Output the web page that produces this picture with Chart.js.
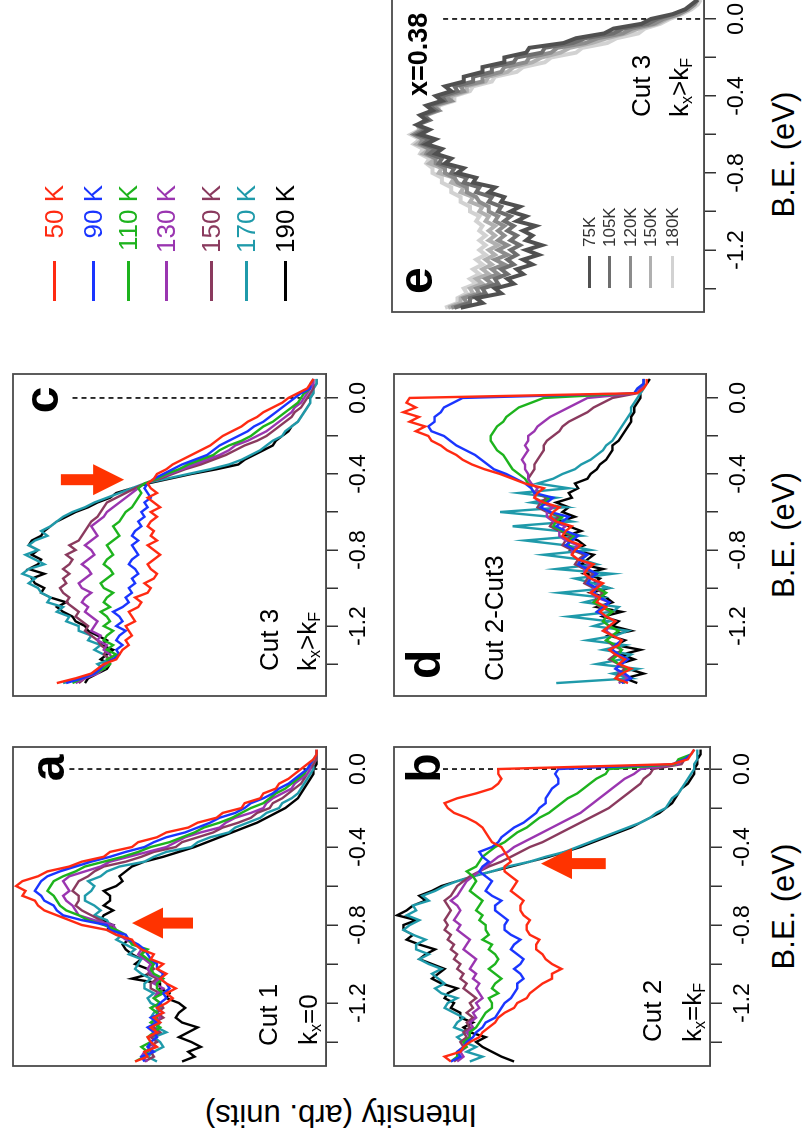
<!DOCTYPE html>
<html><head><meta charset="utf-8">
<script src="https://cdn.jsdelivr.net/npm/chart.js@4.4.1/dist/chart.umd.min.js"></script>
<style>
html,body{margin:0;padding:0;background:#fff;width:809px;height:1142px;overflow:hidden;}
#fig{position:absolute;left:0;top:0;width:1142px;height:809px;transform-origin:0 0;transform:translate(0px,1142px) rotate(-90deg);font-family:'Liberation Sans',Arial,sans-serif;}
#fig canvas{position:absolute;}
.t{position:absolute;white-space:nowrap;line-height:1;color:#000;}
.sb{font-size:0.62em;position:relative;top:0.28em;}
.lg{position:absolute;height:3px;}
</style></head><body><div id="fig"></div>
<script>
// ---------------- data ----------------
const be = [-1.500,-1.475,-1.450,-1.425,-1.400,-1.375,-1.350,-1.325,-1.300,-1.275,-1.250,-1.225,-1.200,-1.175,-1.150,-1.125,-1.100,-1.075,-1.050,-1.025,-1.000,-0.975,-0.950,-0.925,-0.900,-0.875,-0.850,-0.825,-0.800,-0.775,-0.750,-0.725,-0.700,-0.675,-0.650,-0.625,-0.600,-0.575,-0.550,-0.525,-0.500,-0.475,-0.450,-0.425,-0.400,-0.375,-0.350,-0.325,-0.300,-0.275,-0.250,-0.225,-0.200,-0.175,-0.150,-0.125,-0.100,-0.075,-0.050,-0.025,0.000,0.025,0.050,0.075,0.100];
const tickVals = [-1.4,-1.2,-1.0,-0.8,-0.6,-0.4,-0.2,0.0];
const tickLabels = ['','-1.2','','-0.8','','-0.4','','0.0'];
const tempLabels = ['50 K','90 K','110 K','130 K','150 K','170 K','190 K'];
const eLabels = ['75K','105K','120K','150K','180K'];

// panel a (Cut 1, kx=0)
const aRed   = [61,57,58,54,56,57,54,56,53,55,52,54,51,49,51,48,51,53,51,54,52,56,55,59,61,62,67,70,78,82,86,90,92,93,97,96,99,97,92,89,82,78,71,69,62,60,54,51,44,41,35,33,27,26,21,20,16,15,12,10,8,6,4,3,3];
const aBlue  = [58,59,55,57,56,54,55,57,54,56,52,54,53,51,52,50,51,53,52,54,54,56,57,58,60,63,64,69,70,78,84,86,87,90,91,93,92,91,89,85,80,75,69,64,58,55,51,45,41,37,34,29,26,24,20,17,15,12,10,8,6,5,4,3,3];
const aGreen = [61,58,57,59,56,57,55,53,56,54,54,56,53,55,52,54,54,52,55,56,55,57,59,57,62,63,64,67,71,76,79,83,85,86,87,89,88,87,84,80,77,71,65,60,56,50,46,42,39,34,30,27,24,20,18,16,13,11,9,7,6,5,4,3,3];
const aPurple= [57,59,58,55,56,57,54,56,55,53,54,56,53,55,54,52,55,53,56,57,56,58,60,59,61,64,66,67,68,74,79,80,81,83,84,82,83,84,82,77,72,69,63,57,51,48,45,40,34,32,29,24,20,19,17,14,11,10,8,6,5,5,4,3,3];
const aBrown = [58,55,56,57,54,56,53,55,55,52,54,52,53,55,53,56,56,54,57,55,56,58,59,58,61,63,64,67,70,72,75,78,80,79,79,81,80,79,76,74,71,64,59,55,48,46,41,36,33,28,24,22,18,17,14,12,10,8,7,6,5,4,3,3,3];
const aTeal  = [54,57,55,52,53,55,51,54,53,56,55,53,56,57,55,58,58,56,59,61,60,59,63,61,64,67,65,68,69,70,74,72,74,77,77,75,74,76,72,70,66,58,55,51,43,41,37,31,29,25,21,19,15,14,11,9,8,7,6,5,4,4,3,3,3];
const aBlack = [46,42,44,40,43,47,44,41,46,48,47,45,47,51,50,53,53,62,56,57,61,59,62,64,65,63,67,70,68,72,71,68,71,69,69,71,67,65,66,64,62,58,52,47,42,38,34,30,26,22,19,16,13,11,9,8,7,6,5,4,4,3,3,3,3];
// panel b (Cut 2, kx=kF)
const bRed   = [82,84,79,78,76,73,72,70,68,67,65,62,61,58,57,55,53,50,50,47,50,52,53,55,55,54,57,58,58,57,59,60,60,59,61,63,62,61,63,65,65,63,64,65,66,69,70,71,72,74,77,81,83,84,80,74,69,67,66,67,67,12,7,6,5];
const bBlue  = [82,79,80,78,77,75,74,72,71,68,67,66,65,63,62,61,61,59,60,62,60,59,61,63,62,60,63,65,65,64,66,68,68,66,69,71,70,69,71,73,72,70,72,73,69,67,66,64,62,59,57,55,54,52,52,51,50,48,48,49,48,12,8,6,5];
const bGreen = [82,80,80,77,78,76,76,74,73,72,71,69,69,70,67,69,68,66,68,70,68,67,68,70,69,72,70,71,71,73,72,74,73,72,74,76,75,74,75,77,74,73,72,70,68,65,63,61,58,56,54,51,49,47,45,42,40,38,36,33,32,11,10,6,5];
const bPurple= [80,78,79,77,78,76,77,75,76,74,75,73,74,72,73,74,73,75,74,76,75,74,76,78,77,76,78,80,79,81,80,79,80,82,80,79,78,77,75,73,71,69,67,64,62,59,56,53,50,47,44,41,39,37,35,33,31,29,27,24,22,10,9,6,5];
const bBrown = [81,79,80,78,79,77,78,76,77,75,77,75,76,74,76,78,77,79,78,80,79,81,80,82,81,83,82,84,83,84,83,82,83,84,82,81,80,78,76,73,70,66,63,60,57,53,50,47,44,41,38,35,32,30,28,26,24,22,21,19,18,9,8,6,5];
const bTeal  = [76,72,77,74,78,80,77,81,80,78,81,84,83,80,85,87,84,86,88,85,89,92,89,93,93,90,94,97,95,92,96,93,94,89,91,87,84,80,75,69,64,57,52,46,42,38,34,30,26,22,19,17,14,13,12,10,9,8,7,6,5,5,4,4,4];
const bBlack = [62,66,69,72,74,71,76,78,75,79,79,82,81,84,83,80,85,88,86,84,88,92,90,87,92,96,94,97,97,93,99,96,94,90,92,88,85,80,75,69,63,57,51,46,41,37,33,29,25,22,19,16,14,12,11,10,9,7,6,5,5,4,4,3,3];
// panel c (Cut 3, kx>kF)
const cRed   = [86,80,75,73,71,67,66,65,63,64,62,63,64,61,62,63,60,59,61,57,56,58,55,54,56,57,55,53,55,57,54,56,55,57,56,54,56,53,55,57,54,56,57,55,54,51,49,46,43,40,37,35,33,30,27,25,22,20,17,14,12,9,6,5,4];
const cBlue  = [83,78,74,72,71,68,66,67,65,67,66,64,67,65,66,68,65,63,64,62,63,61,62,60,61,63,62,60,61,62,60,62,61,59,60,58,59,57,58,56,57,58,57,55,52,49,46,42,38,36,34,31,28,25,23,20,18,16,14,12,10,8,5,5,4];
const cGreen = [81,78,74,71,69,70,67,70,68,71,70,68,71,69,70,72,69,71,70,68,71,72,70,68,69,71,70,68,69,70,68,66,67,68,66,65,64,62,61,60,59,60,58,54,51,47,44,40,36,34,31,27,24,22,20,17,15,13,11,9,8,7,5,5,4];
const cPurple= [80,77,73,71,70,68,69,71,70,73,72,75,74,73,75,77,76,78,77,75,78,79,77,75,76,78,76,74,75,77,75,73,74,75,73,71,70,68,66,64,62,60,58,54,50,46,42,38,34,31,29,25,22,19,17,15,13,11,10,8,7,6,5,4,4];
const cBrown = [79,77,74,72,70,69,71,70,72,73,75,77,76,78,80,79,81,83,82,84,85,83,84,82,84,82,81,83,80,82,79,78,77,76,75,73,72,71,70,67,64,61,58,53,49,45,40,36,32,29,26,22,19,17,15,13,11,10,8,7,6,5,4,4,4];
const cTeal  = [84,78,75,71,73,69,71,74,72,76,75,79,79,83,82,86,84,89,88,91,92,95,93,97,95,90,93,96,92,95,93,89,91,88,86,84,81,77,74,70,66,62,58,51,44,37,31,27,24,21,19,17,14,13,11,9,8,7,6,5,5,4,4,3,3];
const cBlack = [77,76,73,70,69,72,70,68,72,70,73,76,77,80,81,84,86,83,88,91,90,93,94,90,95,92,91,94,92,95,94,91,90,88,86,83,80,76,73,69,67,62,57,50,43,35,28,26,23,20,17,16,14,12,11,9,8,7,6,5,5,4,4,3,3];
// panel d (Cut 2 - Cut 3)
const dRed   = [25,29,27,24,28,26,29,31,28,27,30,33,31,29,32,34,32,35,34,37,35,33,37,39,38,36,41,43,42,40,44,46,45,43,48,50,49,47,52,55,54,52,58,62,66,71,75,78,80,83,85,88,89,93,90,95,92,97,93,96,95,22,20,19,19];
const dBlue  = [27,24,26,29,27,25,28,30,29,27,30,33,31,29,32,35,33,31,34,36,35,38,37,35,38,41,40,38,42,45,43,41,45,48,46,44,50,53,51,49,55,56,58,61,64,68,70,72,74,77,80,82,84,88,89,87,87,85,84,81,78,23,22,20,20];
const dGreen = [26,29,27,25,28,30,28,27,29,32,30,28,31,33,32,30,33,36,34,32,35,38,37,35,38,41,40,38,42,44,44,42,46,49,48,46,50,53,52,50,55,56,57,58,60,62,63,64,65,67,68,69,69,68,67,65,64,62,60,56,52,23,22,20,20];
const dPurple= [28,25,27,29,28,26,29,31,29,27,30,32,31,29,32,34,33,31,35,37,36,34,37,39,39,37,41,43,43,41,45,47,47,45,49,51,51,49,53,55,55,54,56,57,57,58,58,59,58,57,58,57,57,55,54,52,50,47,44,41,38,22,21,20,20];
const dBrown = [26,29,28,26,28,31,29,27,30,32,30,28,31,33,32,30,34,36,35,33,36,39,38,36,39,42,41,39,43,46,45,43,47,50,49,47,51,54,53,51,55,56,56,57,56,55,55,54,53,52,52,51,49,47,46,44,41,38,36,33,30,22,21,20,20];
const dTeal  = [48,24,30,22,35,27,24,33,26,38,29,25,36,31,44,30,28,39,33,47,31,36,42,30,48,35,40,52,37,45,58,40,47,62,43,50,66,45,56,48,60,44,54,49,46,42,40,37,35,33,32,30,29,28,27,26,25,24,24,23,22,21,20,20,20];
const dBlack = [22,26,20,25,28,23,27,21,29,26,31,24,30,28,33,27,35,30,32,37,31,36,34,39,33,40,38,36,43,39,41,45,40,44,47,42,46,44,48,43,44,41,42,38,37,35,34,32,31,30,30,28,27,26,25,24,24,23,23,22,21,21,20,19,18];
// panel e (x=0.38, Cut 3)
const e75  = [78,71,73,65,67,61,63,58,60,55,58,53,57,52,57,55,58,54,60,57,62,59,65,64,69,67,74,73,79,77,83,81,86,84,89,86,91,88,92,89,91,87,89,84,86,81,83,77,77,71,71,64,64,57,56,45,41,32,29,20,17,10,6,4,2];
const e105 = [80,75,75,70,71,66,67,63,65,61,63,60,62,59,62,60,63,61,64,62,66,65,69,68,73,72,77,76,81,80,85,84,88,86,90,88,92,89,92,88,90,86,88,83,84,79,80,74,74,68,68,61,60,52,51,42,38,29,26,18,15,10,6,4,2];
const e120 = [81,76,77,72,73,68,70,66,68,64,67,63,66,63,66,64,66,64,67,66,69,69,72,73,76,76,79,80,83,83,86,86,89,88,91,90,93,90,92,88,90,85,87,81,83,77,78,71,71,65,64,57,56,49,47,38,34,26,23,16,13,8,5,3,2];
const e150 = [82,78,78,74,75,71,73,69,71,68,70,67,69,66,69,67,69,67,70,69,72,71,75,74,78,77,81,80,85,84,88,86,90,88,92,90,93,91,92,89,89,85,86,81,81,76,76,70,69,63,61,55,52,46,43,36,31,25,21,15,12,8,5,3,2];
const e180 = [83,79,79,76,77,73,75,72,74,71,73,70,72,70,72,70,72,71,73,72,75,75,78,78,81,81,84,84,87,87,89,88,91,90,93,91,94,91,92,89,89,85,85,80,80,75,74,68,67,60,58,51,49,41,39,31,28,21,19,14,11,7,4,2,1];

// ---------------- styles ----------------
const tempColors = ['#ff2a12','#1a35ff','#1db31d','#9a35b0','#8a3a5e','#1f9aaa','#000000'];
const greyColors = ['#505050','#6e6e6e','#8c8c8c','#b0b0b0','#d2d2d2'];
const FONT = "'Liberation Sans', Arial, sans-serif";
const fig = document.getElementById('fig');

const deco = {
  id: 'deco',
  beforeDatasetsDraw(chart, args, o) {
    if (o.dash == null) return;
    const {ctx, chartArea: a, scales: {x, y}} = chart;
    const px = x.getPixelForValue(0);
    ctx.save();
    ctx.beginPath(); ctx.setLineDash([5, 4]); ctx.lineWidth = 1.6; ctx.strokeStyle = '#000';
    ctx.moveTo(px, y.getPixelForValue(o.dash)); ctx.lineTo(px, a.bottom); ctx.stroke();
    ctx.restore();
  },
  afterDatasetsDraw(chart, args, o) {
    const {ctx, chartArea: a, scales: {x, y}} = chart;
    ctx.save();
    ctx.strokeStyle = '#4a4a4a'; ctx.lineWidth = 1.8;
    ctx.strokeRect(a.left, a.top, a.right - a.left, a.bottom - a.top);
    if (o.arrow) {
      const px = x.getPixelForValue(o.arrow.x);
      const pt = y.getPixelForValue(o.arrow.tip), pl = y.getPixelForValue(o.arrow.tail);
      const dir = pl > pt ? 1 : -1, HL = 31, HW = 15.5, SW = 5.5;
      const base = pt + dir * HL;
      ctx.fillStyle = '#ff3300';
      ctx.beginPath();
      ctx.moveTo(px, pt); ctx.lineTo(px + HW, base); ctx.lineTo(px + SW, base); ctx.lineTo(px + SW, pl);
      ctx.lineTo(px - SW, pl); ctx.lineTo(px - SW, base); ctx.lineTo(px - HW, base); ctx.closePath();
      ctx.fill();
    }
    ctx.restore();
  }
};

function panel(p) {
  const PAD = 8, AXH = 52;
  const [l, r, t, b] = p.box;
  const w = r - l + 2 * PAD, h = b - t + PAD + AXH;
  const cv = document.createElement('canvas');
  cv.width = w; cv.height = h;
  cv.style.left = (l - PAD) + 'px'; cv.style.top = (t - PAD) + 'px';
  cv.style.width = w + 'px'; cv.style.height = h + 'px';
  fig.appendChild(cv);
  new Chart(cv, {
    type: 'scatter',
    data: { datasets: p.series.map((s, i) => ({
      data: be.map((xv, j) => ({x: xv, y: s[j]})),
      showLine: true, borderColor: p.colors[i], backgroundColor: p.colors[i],
      borderWidth: p.lw, pointRadius: 0, fill: false, tension: 0
    })) },
    options: {
      responsive: false, animation: false, devicePixelRatio: 2,
      layout: { padding: { left: PAD, right: PAD, top: PAD, bottom: 0 } },
      plugins: { legend: { display: false }, tooltip: { enabled: false },
                 deco: { dash: p.dash, arrow: p.arrow } },
      scales: {
        x: { type: 'linear', position: 'bottom', min: p.xr[0], max: p.xr[1],
             afterFit: s => { s.height = AXH; },
             afterBuildTicks: s => { s.ticks = tickVals.map(v => ({value: v})); },
             ticks: { autoSkip: false, maxRotation: 0, minRotation: 0, padding: 7, color: '#000',
                      font: { family: FONT, size: 23 }, callback: (v, i) => tickLabels[i] },
             grid: { drawOnChartArea: false, drawTicks: true, tickLength: 12, color: '#333', lineWidth: 1.5 },
             border: { display: true, color: '#444', width: 1.5 } },
        y: { display: false, min: 0, max: 100 }
      }
    },
    plugins: [deco]
  });
}

panel({ box: [76, 395, 13, 326],  xr: [-1.523, 0.113], series: [aRed, aBlue, aGreen, aPurple, aBrown, aTeal, aBlack], colors: tempColors, lw: 2.4, dash: 82, arrow: { x: -0.79, tip: 62, tail: 42.5 } });
panel({ box: [76, 395, 394, 710], xr: [-1.523, 0.113], series: [bRed, bBlue, bGreen, bPurple, bBrown, bTeal, bBlack], colors: tempColors, lw: 2.4, dash: 84.5, arrow: { x: -0.485, tip: 53.5, tail: 33 } });
panel({ box: [446, 768, 13, 326], xr: [-1.568, 0.126], series: [cRed, cBlue, cGreen, cPurple, cBrown, cTeal, cBlack], colors: tempColors, lw: 2.4, dash: 81, arrow: { x: -0.43, tip: 64.5, tail: 84.7 } });
panel({ box: [446, 768, 394, 706], xr: [-1.568, 0.126], series: [dRed, dBlue, dGreen, dPurple, dBrown, dTeal, dBlack], colors: tempColors, lw: 2.4 });
panel({ box: [830, 1145, 392, 704], xr: [-1.522, 0.114], series: [e75, e105, e120, e150, e180], colors: greyColors, lw: 4, dash: 83.6 });

// ---------------- text ----------------
function addText(html, u, base, size, o = {}) {
  const d = document.createElement('div');
  d.className = 't'; d.innerHTML = html;
  d.style.fontSize = size + 'px';
  if (o.bold) d.style.fontWeight = 'bold';
  if (o.color) d.style.color = o.color;
  if (o.align === 'center') { d.style.left = (u - 200) + 'px'; d.style.width = '400px'; d.style.textAlign = 'center'; }
  else if (o.align === 'right') { d.style.left = (u - 300) + 'px'; d.style.width = '300px'; d.style.textAlign = 'right'; }
  else d.style.left = u + 'px';
  d.style.top = (base - 0.8465 * size) + 'px';
  fig.appendChild(d);
  return d;
}
const sub = s => '<span class="sb">' + s + '</span>';

addText('a', 374, 65, 48, { bold: true, align: 'center' });
addText('b', 374, 441, 48, { bold: true, align: 'center' });
addText('c', 742, 59, 48, { bold: true, align: 'center' });
addText('d', 463, 441, 48, { bold: true });
addText('e', 848, 433, 48, { bold: true });
addText('x=0.38', 1046, 428, 27, { bold: true });

addText('Cut 1', 96, 277, 26);
addText('k' + sub('x') + '=0', 97, 317, 26);
addText('Cut 2', 100, 661, 26);
addText('k' + sub('x') + '=k' + sub('F'), 100, 701, 26);
addText('Cut 3', 471, 278, 26);
addText('k' + sub('x') + '&gt;k' + sub('F'), 471, 316, 26);
addText('Cut 2-Cut3', 461, 503, 26);
addText('Cut 3', 1025, 650, 26);
addText('k' + sub('x') + '&gt;k' + sub('F'), 1025, 688, 26);

addText('B.E. (eV)', 235.5, 794, 31, { align: 'center' });
addText('B.E. (eV)', 607, 794, 31, { align: 'center' });
addText('B.E. (eV)', 987.5, 794, 31, { align: 'center' });

const yl = document.createElement('div');
yl.className = 't'; yl.textContent = 'Intensity (arb. units)';
yl.style.fontSize = '31px'; yl.style.left = '27px'; yl.style.top = '341px';
yl.style.transform = 'translate(-50%,-50%) rotate(-90deg)';
fig.appendChild(yl);

// main legend
const legV = [54, 93, 128, 166, 211, 246, 285];
tempLabels.forEach((lab, i) => {
  const ln = document.createElement('div'); ln.className = 'lg';
  ln.style.left = '841px'; ln.style.width = '40px'; ln.style.top = (legV[i] - 1.5) + 'px';
  ln.style.background = tempColors[i]; fig.appendChild(ln);
  addText(lab, 957, legV[i] + 9.3, 26, { align: 'right', color: tempColors[i] });
});
// panel e legend
const eLegV = [589, 609, 630, 650, 672];
eLabels.forEach((lab, i) => {
  const ln = document.createElement('div'); ln.className = 'lg';
  ln.style.left = '854px'; ln.style.width = '32px'; ln.style.top = (eLegV[i] - 1.5) + 'px';
  ln.style.background = greyColors[i]; fig.appendChild(ln);
  addText(lab, 895, eLegV[i] + 6, 17, { color: '#333' });
});
</script></body></html>
